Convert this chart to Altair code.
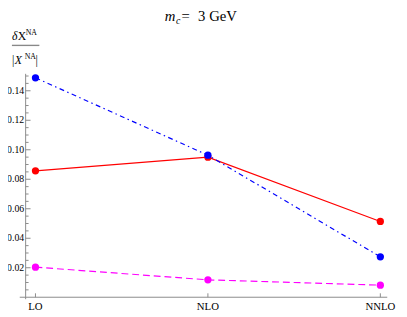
import altair as alt
import pandas as pd

# ---- data ----
stages = ["LO", "NLO", "NNLO"]
stage_pos = [0, 1, 2]
blue_vals = [0.1488, 0.0963, 0.0274]
red_vals = [0.0857, 0.0950, 0.0514]
magenta_vals = [0.0204, 0.0118, 0.0082]
y_major = [0.02, 0.04, 0.06, 0.08, 0.10, 0.12, 0.14]
y_minor = [0.005, 0.01, 0.015, 0.025, 0.03, 0.035, 0.045, 0.05, 0.055,
           0.065, 0.07, 0.075, 0.085, 0.09, 0.095, 0.105, 0.11, 0.115,
           0.125, 0.13, 0.135, 0.145, 0.15]

FONT = "Liberation Serif"
AX = "#8a8a8a"
W, H = 369, 228

xs = alt.Scale(domain=[-0.057, 2.04], nice=False, zero=False)
ys = alt.Scale(domain=[0, 0.1515], nice=False, zero=False)


def series_df(vals):
    return pd.DataFrame({"stage": stages, "pos": stage_pos, "value": vals})


def X():
    return alt.X("pos:Q", scale=xs, axis=None)


def Y():
    return alt.Y("value:Q", scale=ys, axis=None)


layers = []

# axes lines
one = pd.DataFrame({"a": [0]})
layers.append(alt.Chart(one).mark_rule(color=AX, strokeWidth=1).encode(
    x=alt.value(-6), x2=alt.value(W), y=alt.value(H)))
layers.append(alt.Chart(one).mark_rule(color=AX, strokeWidth=1).encode(
    x=alt.value(0), y=alt.value(0), y2=alt.value(H + 2)))

# y ticks (inward)
maj = pd.DataFrame({"value": y_major, "label": [f"{v:.2f}" for v in y_major]})
mnr = pd.DataFrame({"value": y_minor})
layers.append(alt.Chart(maj).mark_rule(color=AX, strokeWidth=1).encode(
    y=Y(), x=alt.value(0), x2=alt.value(5)))
layers.append(alt.Chart(mnr).mark_rule(color=AX, strokeWidth=1).encode(
    y=Y(), x=alt.value(0), x2=alt.value(3)))
layers.append(alt.Chart(maj).mark_text(font=FONT, fontSize=10, align="right",
                                       baseline="middle", color="black").encode(
    y=Y(), x=alt.value(-1.5), text="label:N"))

# x ticks and labels
xt = pd.DataFrame({"stage": stages, "pos": stage_pos})
layers.append(alt.Chart(xt).mark_rule(color=AX, strokeWidth=1).encode(
    x=X(), y=alt.value(H), y2=alt.value(H - 4)))
layers.append(alt.Chart(xt).mark_text(font=FONT, fontSize=11, align="center",
                                      baseline="top", color="black").encode(
    x=X(), y=alt.value(H + 4), text="stage:N"))

# series lines
layers.append(alt.Chart(series_df(red_vals)).mark_line(
    color="#ff0000", strokeWidth=1.2).encode(x=X(), y=Y()))
layers.append(alt.Chart(series_df(blue_vals)).mark_line(
    color="#0000ff", strokeWidth=1.2, strokeDash=[5, 3.5, 1.5, 3.5]).encode(x=X(), y=Y()))
layers.append(alt.Chart(series_df(magenta_vals)).mark_line(
    color="#ff00ff", strokeWidth=1.2, strokeDash=[7, 4]).encode(x=X(), y=Y()))

# points
for vals, col in [(red_vals, "#ff0000"), (blue_vals, "#0000ff"), (magenta_vals, "#ff00ff")]:
    layers.append(alt.Chart(series_df(vals)).mark_point(
        filled=True, color=col, size=55, opacity=1).encode(x=X(), y=Y()))


def txt(s, x, y, size, style="normal", align="left", baseline="alphabetic"):
    return alt.Chart(one).mark_text(text=s, font=FONT, fontSize=size, fontStyle=style,
                                    align=align, baseline=baseline, color="black").encode(
        x=alt.value(x), y=alt.value(y))

# title  m_c = 3 GeV
layers.append(txt("m", 142, -54, 15, "italic"))
layers.append(txt("c", 153.5, -51, 10, "italic"))
layers.append(txt("=", 159, -54, 15))
layers.append(txt("3 GeV", 176, -54, 15))

# y-axis label: δX^NA / |X^NA|
layers.append(txt("δ", -14, -35, 12, "italic"))
layers.append(txt("X", -8, -35, 12))
layers.append(txt("NA", 0, -40, 8))
layers.append(alt.Chart(one).mark_rule(color="#888888", strokeWidth=1.4).encode(
    x=alt.value(-14), x2=alt.value(14), y=alt.value(-29)))
layers.append(txt("|", -14, -10, 12))
layers.append(txt("X", -11, -10, 12, "italic"))
layers.append(txt("NA", -1, -15, 8))
layers.append(txt("|", 10, -10, 12))

chart = alt.layer(*layers).properties(
    width=W, height=H,
    autosize=alt.AutoSizeParams(type="none"),
    padding={"left": 18, "top": 64, "right": 12, "bottom": 17},
).configure_view(stroke=None)

chart.save("out.html", embed_options={"renderer": "svg", "actions": False})
